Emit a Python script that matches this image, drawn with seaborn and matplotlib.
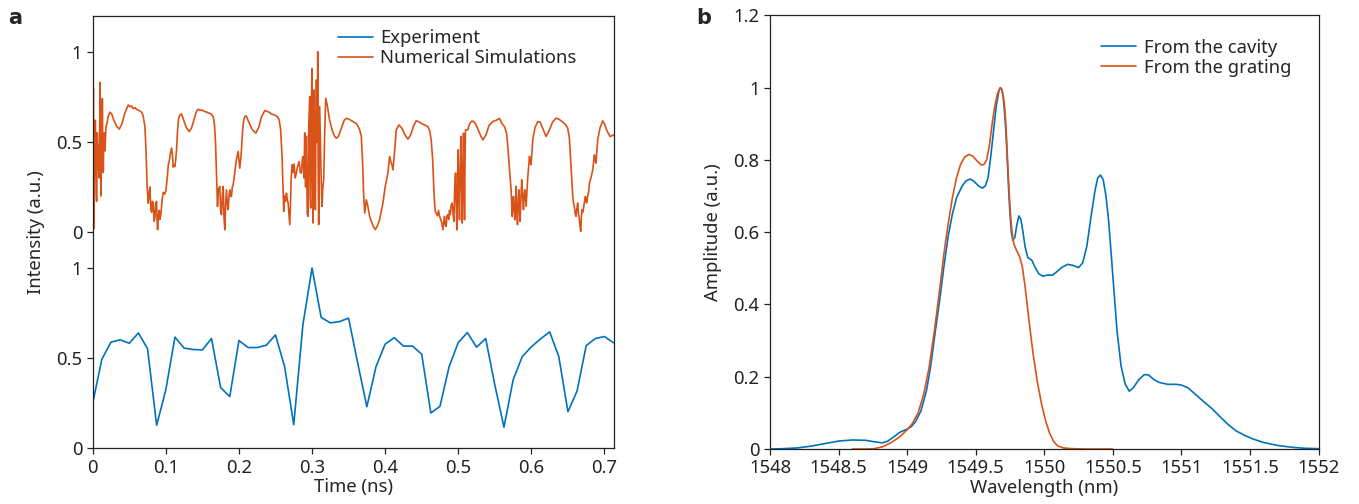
import numpy as np
import pandas as pd
import matplotlib
matplotlib.use("Agg")
import matplotlib.pyplot as plt
import seaborn as sns

# ---------------- Panel a data ----------------
exp_time = [0.0000, 0.0125, 0.0250, 0.0375, 0.0500, 0.0625, 0.0750, 0.0875, 0.1000, 0.1125,
            0.1250, 0.1375, 0.1500, 0.1625, 0.1750, 0.1875, 0.2000, 0.2125, 0.2250, 0.2375,
            0.2500, 0.2625, 0.2750, 0.2875, 0.3000, 0.3125, 0.3250, 0.3375, 0.3500, 0.3625,
            0.3750, 0.3875, 0.4000, 0.4125, 0.4250, 0.4375, 0.4500, 0.4625, 0.4750, 0.4875,
            0.5000, 0.5125, 0.5250, 0.5375, 0.5500, 0.5625, 0.5750, 0.5875, 0.6000, 0.6125,
            0.6250, 0.6375, 0.6500, 0.6625, 0.6750, 0.6875, 0.7000, 0.7125]
exp_intensity = [0.250, 0.494, 0.589, 0.602, 0.583, 0.640, 0.553, 0.128, 0.324, 0.617,
                 0.556, 0.548, 0.546, 0.609, 0.337, 0.287, 0.598, 0.559, 0.559, 0.572,
                 0.629, 0.453, 0.131, 0.685, 1.000, 0.726, 0.696, 0.703, 0.722, 0.472,
                 0.231, 0.453, 0.578, 0.614, 0.567, 0.567, 0.522, 0.196, 0.233, 0.453,
                 0.587, 0.642, 0.561, 0.609, 0.352, 0.117, 0.379, 0.509, 0.563, 0.607,
                 0.646, 0.509, 0.203, 0.318, 0.570, 0.609, 0.620, 0.585]

sim_time = [
    0.0005, 0.0009, 0.0014, 0.0018, 0.0027, 0.0036, 0.0041, 0.0050, 0.0054, 0.0063,
    0.0072, 0.0077, 0.0086, 0.0095, 0.0100, 0.0106, 0.0113, 0.0120, 0.0127, 0.0132,
    0.0138, 0.0145, 0.0152, 0.0159, 0.0168, 0.0182, 0.0195, 0.0210, 0.0236, 0.0260,
    0.0290, 0.0330, 0.0364, 0.0400, 0.0440, 0.0487, 0.0510, 0.0530, 0.0555, 0.0580,
    0.0601, 0.0630, 0.0669, 0.0690, 0.0714, 0.0730, 0.0745, 0.0760,
    0.0770, 0.0783, 0.0795, 0.0806, 0.0817, 0.0828, 0.0840, 0.0851, 0.0862, 0.0874,
    0.0881, 0.0888, 0.0899, 0.0910, 0.0921, 0.0933, 0.0950, 0.0965, 0.0985, 0.1001,
    0.1020, 0.1033, 0.1050, 0.1065, 0.1079, 0.1090, 0.1101, 0.1112, 0.1124, 0.1135,
    0.1147, 0.1160, 0.1175, 0.1193, 0.1215, 0.1245, 0.1280, 0.1320, 0.1350, 0.1390,
    0.1420, 0.1443, 0.1470, 0.1490, 0.1510, 0.1534, 0.1560, 0.1590, 0.1620, 0.1648,
    0.1665, 0.1680, 0.1695, 0.1707,
    0.1720, 0.1739, 0.1750, 0.1762, 0.1773, 0.1785, 0.1796, 0.1807, 0.1818, 0.1830,
    0.1842, 0.1853, 0.1865, 0.1876, 0.1887, 0.1898, 0.1910, 0.1921, 0.1935, 0.1944,
    0.1965, 0.1989, 0.2000, 0.2012, 0.2024, 0.2035, 0.2050, 0.2065, 0.2081, 0.2100,
    0.2130, 0.2180, 0.2231, 0.2270, 0.2310, 0.2354, 0.2380, 0.2410, 0.2445, 0.2480,
    0.2510, 0.2535, 0.2550, 0.2570, 0.2590, 0.2603, 0.2613,
    0.2625, 0.2637, 0.2650, 0.2662, 0.2673, 0.2684, 0.2695, 0.2705, 0.2715, 0.2727,
    0.2740, 0.2754, 0.2770, 0.2786, 0.2800, 0.2823, 0.2840, 0.2855, 0.2866, 0.2877,
    0.2890, 0.2900, 0.2912, 0.2923, 0.2935, 0.2946, 0.2955, 0.2969, 0.2975, 0.2982,
    0.2991, 0.3000, 0.3007, 0.3014, 0.3021, 0.3028, 0.3037, 0.3046, 0.3053, 0.3060,
    0.3069, 0.3078, 0.3085, 0.3091, 0.3098, 0.3105, 0.3114, 0.3125, 0.3137, 0.3148,
    0.3160, 0.3173, 0.3187,
    0.3210, 0.3240, 0.3280, 0.3310, 0.3333, 0.3360, 0.3400, 0.3440, 0.3470, 0.3510,
    0.3560, 0.3610, 0.3650, 0.3674, 0.3690, 0.3705, 0.3720,
    0.3743, 0.3760, 0.3788, 0.3810, 0.3840, 0.3865, 0.3890, 0.3924, 0.3950, 0.3970,
    0.4000, 0.4038, 0.4061, 0.4073, 0.4084, 0.4095, 0.4107, 0.4130, 0.4152, 0.4189,
    0.4230, 0.4270, 0.4312, 0.4350, 0.4390, 0.4425, 0.4470, 0.4516, 0.4560, 0.4585,
    0.4610, 0.4630, 0.4650, 0.4665, 0.4676,
    0.4688, 0.4699, 0.4715, 0.4730, 0.4744, 0.4760, 0.4775, 0.4790, 0.4800, 0.4812,
    0.4823, 0.4835, 0.4846, 0.4858, 0.4870, 0.4880, 0.4890, 0.4903, 0.4917, 0.4929,
    0.4940, 0.4952, 0.4963, 0.4972, 0.4981, 0.4990, 0.4999, 0.5008, 0.5017, 0.5027,
    0.5036, 0.5045, 0.5054, 0.5063, 0.5072, 0.5080, 0.5086, 0.5093, 0.5099, 0.5131,
    0.5155, 0.5177, 0.5210, 0.5250, 0.5300, 0.5336, 0.5380, 0.5420, 0.5473, 0.5520,
    0.5564, 0.5600, 0.5632, 0.5660, 0.5678, 0.5700, 0.5723,
    0.5737, 0.5746, 0.5755, 0.5764, 0.5773, 0.5782, 0.5792, 0.5800, 0.5810, 0.5819,
    0.5828, 0.5837, 0.5846, 0.5858, 0.5869, 0.5880, 0.5892, 0.5900, 0.5910, 0.5920,
    0.5928, 0.5950, 0.5974, 0.5985, 0.5996, 0.6008, 0.6019, 0.6050, 0.6088, 0.6120,
    0.6160, 0.6201, 0.6240, 0.6290, 0.6338, 0.6380, 0.6429, 0.6470, 0.6497, 0.6520,
    0.6545, 0.6566,
    0.6577, 0.6588, 0.6600, 0.6611, 0.6622, 0.6634, 0.6645, 0.6657, 0.6666, 0.6675,
    0.6684, 0.6693, 0.6705, 0.6716, 0.6727, 0.6739, 0.6748, 0.6757, 0.6770, 0.6784,
    0.6793, 0.6815, 0.6839, 0.6862, 0.6873, 0.6884, 0.6895, 0.6907, 0.6940, 0.6976,
    0.7000, 0.7030, 0.7076, 0.7105, 0.7135]
sim_intensity = [
    0.30, 0.80, 0.40, 0.02, 0.50, 0.62, 0.53, 0.20, 0.17, 0.55,
    0.35, 0.48, 0.30, 0.55, 0.83, 0.40, 0.20, 0.45, 0.35, 0.74,
    0.45, 0.33, 0.52, 0.55, 0.45, 0.59, 0.60, 0.64, 0.665, 0.655,
    0.62, 0.585, 0.571, 0.60, 0.66, 0.705, 0.695, 0.70, 0.685, 0.69,
    0.68, 0.675, 0.665, 0.645, 0.585, 0.45, 0.25, 0.16,
    0.21, 0.25, 0.13, 0.11, 0.17, 0.16, 0.06, 0.08, 0.16, 0.17,
    0.06, 0.013, 0.09, 0.12, 0.07, 0.10, 0.18, 0.22, 0.21, 0.23,
    0.30, 0.37, 0.40, 0.44, 0.465, 0.43, 0.36, 0.37, 0.363, 0.40,
    0.456, 0.56, 0.63, 0.65, 0.655, 0.62, 0.58, 0.557, 0.575, 0.63,
    0.67, 0.681, 0.675, 0.678, 0.672, 0.668, 0.665, 0.66, 0.655, 0.64,
    0.60, 0.50, 0.30, 0.142,
    0.24, 0.253, 0.12, 0.096, 0.20, 0.253, 0.08, 0.013, 0.15, 0.234,
    0.15, 0.124, 0.20, 0.234, 0.20, 0.197, 0.25, 0.262, 0.30, 0.336,
    0.40, 0.447, 0.40, 0.354, 0.40, 0.456, 0.56, 0.62, 0.64, 0.645,
    0.615, 0.57, 0.548, 0.58, 0.64, 0.674, 0.670, 0.665, 0.655, 0.650,
    0.645, 0.635, 0.622, 0.57, 0.42, 0.25, 0.114,
    0.20, 0.17, 0.216, 0.18, 0.161, 0.10, 0.041, 0.15, 0.30, 0.373,
    0.33, 0.378, 0.30, 0.327, 0.36, 0.391, 0.33, 0.327, 0.40, 0.419,
    0.30, 0.55, 0.25, 0.53, 0.10, 0.087, 0.60, 0.751, 0.20, 0.133,
    0.70, 0.908, 0.30, 0.05, 0.50, 0.788, 0.30, 0.124, 0.60, 0.844,
    0.50, 1.00, 0.30, 0.041, 0.40, 0.696, 0.511, 0.30, 0.142, 0.25,
    0.290, 0.55, 0.742,
    0.70, 0.62, 0.56, 0.53, 0.52, 0.53, 0.575, 0.62, 0.631, 0.625,
    0.613, 0.60, 0.57, 0.53, 0.40, 0.22, 0.105,
    0.179, 0.15, 0.087, 0.06, 0.03, 0.013, 0.03, 0.068, 0.12, 0.161,
    0.25, 0.327, 0.419, 0.40, 0.382, 0.37, 0.345, 0.45, 0.567, 0.594,
    0.575, 0.54, 0.515, 0.54, 0.59, 0.617, 0.610, 0.598, 0.59, 0.585,
    0.56, 0.511, 0.40, 0.25, 0.161,
    0.11, 0.105, 0.09, 0.12, 0.087, 0.07, 0.05, 0.013, 0.05, 0.087,
    0.04, 0.031, 0.09, 0.096, 0.07, 0.12, 0.096, 0.15, 0.161, 0.10,
    0.059, 0.25, 0.327, 0.15, 0.013, 0.30, 0.456, 0.20, 0.068, 0.35,
    0.530, 0.30, 0.05, 0.35, 0.548, 0.30, 0.068, 0.40, 0.567, 0.567,
    0.60, 0.613, 0.615, 0.59, 0.54, 0.511, 0.54, 0.59, 0.613, 0.620,
    0.63, 0.60, 0.585, 0.55, 0.474, 0.35, 0.234,
    0.087, 0.15, 0.197, 0.12, 0.068, 0.15, 0.253, 0.12, 0.041, 0.15,
    0.234, 0.12, 0.059, 0.20, 0.290, 0.20, 0.124, 0.20, 0.234, 0.18,
    0.142, 0.30, 0.419, 0.39, 0.373, 0.45, 0.511, 0.58, 0.613, 0.610,
    0.57, 0.53, 0.56, 0.61, 0.632, 0.625, 0.61, 0.595, 0.576, 0.52,
    0.35, 0.197,
    0.16, 0.142, 0.10, 0.087, 0.13, 0.161, 0.10, 0.068, 0.03, 0.004,
    0.08, 0.124, 0.11, 0.142, 0.17, 0.197, 0.17, 0.161, 0.20, 0.225,
    0.271, 0.30, 0.345, 0.428, 0.40, 0.382, 0.44, 0.511, 0.58, 0.617,
    0.60, 0.565, 0.53, 0.535, 0.54]
sim_offset = 1.2

a_xticks = [0, 0.1, 0.2, 0.3, 0.4, 0.5, 0.6, 0.7]
a_xticklabels = ["0", "0.1", "0.2", "0.3", "0.4", "0.5", "0.6", "0.7"]
a_yticks = [0, 0.5, 1, 1.2, 1.7, 2.2]
a_yticklabels = ["0", "0.5", "1", "0", "0.5", "1"]

# ---------------- Panel b data ----------------
cavity_wl = [1548.00, 1548.10, 1548.20, 1548.30, 1548.40, 1548.50, 1548.60, 1548.70, 1548.76, 1548.82,
             1548.86, 1548.90, 1548.95, 1549.00, 1549.03, 1549.06, 1549.10, 1549.14, 1549.17, 1549.20,
             1549.24, 1549.27, 1549.30, 1549.33, 1549.36, 1549.40, 1549.43, 1549.46, 1549.49, 1549.52,
             1549.55, 1549.57, 1549.59, 1549.61, 1549.63, 1549.65, 1549.67, 1549.68, 1549.69, 1549.70,
             1549.71, 1549.72, 1549.73, 1549.74, 1549.75, 1549.76, 1549.77, 1549.785, 1549.80, 1549.815,
             1549.83, 1549.845, 1549.86, 1549.88, 1549.91, 1549.93, 1549.96, 1549.99, 1550.02, 1550.06,
             1550.09, 1550.13, 1550.17, 1550.21, 1550.25, 1550.28, 1550.31, 1550.34, 1550.37, 1550.39,
             1550.41, 1550.43, 1550.45, 1550.47, 1550.49, 1550.51, 1550.53, 1550.56, 1550.59, 1550.62,
             1550.65, 1550.69, 1550.73, 1550.76, 1550.80, 1550.84, 1550.90, 1550.96, 1551.00, 1551.05,
             1551.10, 1551.16, 1551.22, 1551.28, 1551.34, 1551.40, 1551.46, 1551.52, 1551.60, 1551.70,
             1551.80, 1551.90, 1552.00]
cavity_amp = [0.000, 0.001, 0.003, 0.008, 0.015, 0.022, 0.025, 0.024, 0.020, 0.017,
              0.022, 0.033, 0.047, 0.055, 0.062, 0.075, 0.105, 0.160, 0.225, 0.310,
              0.420, 0.510, 0.590, 0.650, 0.695, 0.727, 0.742, 0.747, 0.740, 0.728,
              0.722, 0.728, 0.750, 0.810, 0.880, 0.950, 0.992, 1.000, 0.995, 0.975,
              0.935, 0.880, 0.800, 0.720, 0.650, 0.600, 0.578, 0.585, 0.620, 0.645,
              0.635, 0.600, 0.560, 0.530, 0.522, 0.505, 0.485, 0.478, 0.481, 0.481,
              0.490, 0.503, 0.511, 0.508, 0.502, 0.515, 0.560, 0.640, 0.715, 0.750,
              0.758, 0.745, 0.700, 0.630, 0.530, 0.430, 0.330, 0.230, 0.180, 0.160,
              0.170, 0.192, 0.206, 0.205, 0.192, 0.184, 0.179, 0.179, 0.177, 0.169,
              0.152, 0.132, 0.113, 0.090, 0.068, 0.050, 0.038, 0.028, 0.018, 0.010,
              0.005, 0.002, 0.001]

grating_wl = [1548.60, 1548.70, 1548.76, 1548.82, 1548.88, 1548.94, 1549.00, 1549.04, 1549.08, 1549.12,
              1549.16, 1549.20, 1549.24, 1549.27, 1549.30, 1549.33, 1549.36, 1549.39, 1549.42, 1549.45,
              1549.48, 1549.51, 1549.54, 1549.56, 1549.58, 1549.60, 1549.62, 1549.64, 1549.66, 1549.68,
              1549.69, 1549.70, 1549.71, 1549.72, 1549.73, 1549.74, 1549.75, 1549.76, 1549.77, 1549.78,
              1549.80, 1549.82, 1549.84, 1549.86, 1549.88, 1549.90, 1549.92, 1549.95, 1549.98, 1550.01,
              1550.04, 1550.07, 1550.10, 1550.14, 1550.20, 1550.30, 1550.50]
grating_amp = [0.000, 0.000, 0.001, 0.006, 0.017, 0.032, 0.053, 0.072, 0.100, 0.150,
               0.225, 0.330, 0.450, 0.545, 0.625, 0.695, 0.750, 0.788, 0.808, 0.815,
               0.810, 0.797, 0.786, 0.787, 0.800, 0.840, 0.900, 0.950, 0.985, 1.000,
               0.995, 0.980, 0.950, 0.900, 0.820, 0.740, 0.670, 0.620, 0.585, 0.565,
               0.548, 0.532, 0.505, 0.450, 0.385, 0.320, 0.260, 0.185, 0.125, 0.078,
               0.043, 0.020, 0.008, 0.003, 0.001, 0.000, 0.000]

b_xticks = [1548, 1548.5, 1549, 1549.5, 1550, 1550.5, 1551, 1551.5, 1552]
b_xticklabels = ["1548", "1548.5", "1549", "1549.5", "1550", "1550.5", "1551", "1551.5", "1552"]
b_yticks = [0, 0.2, 0.4, 0.6, 0.8, 1.0, 1.2]
b_yticklabels = ["0", "0.2", "0.4", "0.6", "0.8", "1", "1.2"]

BLUE = "#0072BD"
ORANGE = "#D95319"

sns.set_style("ticks")
plt.rcParams["font.family"] = ["Noto Sans", "DejaVu Sans"]
FS = 13.3

fig = plt.figure(figsize=(13.59, 5.04), dpi=100)
ax1 = fig.add_axes([0.0682, 0.1105, 0.3836, 0.8583])
ax2 = fig.add_axes([0.5666, 0.1091, 0.4036, 0.8605])

df_exp = pd.DataFrame({"t": exp_time, "v": exp_intensity})
df_sim = pd.DataFrame({"t": sim_time, "v": np.array(sim_intensity) + sim_offset})
sns.lineplot(data=df_exp, x="t", y="v", ax=ax1, color=BLUE, lw=1.2,
             label="Experiment", estimator=None, sort=False)
sns.lineplot(data=df_sim, x="t", y="v", ax=ax1, color=ORANGE, lw=1.2,
             label="Numerical Simulations", estimator=None, sort=False)
ax1.set_xlim(0, 0.713)
ax1.set_ylim(0, 2.4)
ax1.set_xticks(a_xticks)
ax1.set_xticklabels(a_xticklabels)
ax1.set_yticks(a_yticks)
ax1.set_yticklabels(a_yticklabels)
ax1.set_xlabel("Time (ns)", fontsize=FS, labelpad=1)
ax1.set_ylabel("Intensity (a.u.)", fontsize=FS, labelpad=8)
ax1.legend(loc="upper left", bbox_to_anchor=(0.452, 0.99), frameon=False,
           fontsize=FS, handlelength=1.9, handletextpad=0.4, labelspacing=0.1,
           borderaxespad=0.1)

df_cav = pd.DataFrame({"wl": cavity_wl, "a": cavity_amp})
df_gra = pd.DataFrame({"wl": grating_wl, "a": grating_amp})
sns.lineplot(data=df_cav, x="wl", y="a", ax=ax2, color=BLUE, lw=1.2,
             label="From the cavity", estimator=None, sort=False)
sns.lineplot(data=df_gra, x="wl", y="a", ax=ax2, color=ORANGE, lw=1.2,
             label="From the grating", estimator=None, sort=False)
ax2.set_xlim(1548, 1552)
ax2.set_ylim(0, 1.2)
ax2.set_xticks(b_xticks)
ax2.set_xticklabels(b_xticklabels)
ax2.set_yticks(b_yticks)
ax2.set_yticklabels(b_yticklabels)
ax2.set_xlabel("Wavelength (nm)", fontsize=FS, labelpad=1)
ax2.set_ylabel("Amplitude (a.u.)", fontsize=FS, labelpad=8)
ax2.legend(loc="upper left", bbox_to_anchor=(0.587, 0.967), frameon=False,
           fontsize=FS, handlelength=1.9, handletextpad=0.4, labelspacing=0.1,
           borderaxespad=0.1)

for ax in (ax1, ax2):
    for s in ax.spines.values():
        s.set_visible(True)
        s.set_linewidth(0.9)
        s.set_color("#222222")
    ax.tick_params(direction="out", length=4.5, width=0.9, labelsize=FS,
                   pad=3, colors="#222222", top=False, right=False)

fig.text(0.006, 0.952, "a", fontsize=15, fontweight="bold", family="DejaVu Sans")
fig.text(0.512, 0.952, "b", fontsize=15, fontweight="bold", family="DejaVu Sans")

fig.savefig("out.png", dpi=100)
